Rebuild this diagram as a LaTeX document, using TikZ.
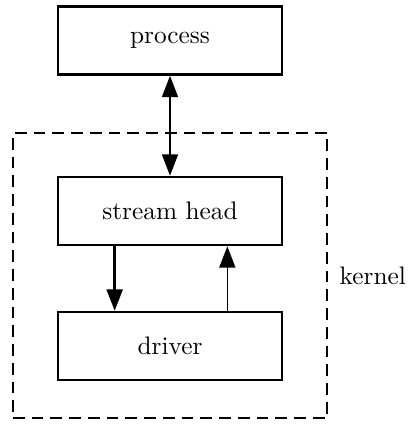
\documentclass[tikz,border=0pt]{standalone}
\usepackage{tikz}
\usetikzlibrary{arrows.meta, positioning}

\tikzset{
  unit/.style={draw, line width=1.1pt, minimum width=3.36cm, minimum height=1.02cm,
    font=\fontsize{10.8}{12}\selectfont},
  kernelbox/.style={draw, line width=0.9pt, dash pattern=on 5pt off 3pt,
    minimum width=4.71cm, minimum height=4.28cm},
  flow/.style={line width=0.7pt, -{Triangle[length=3.2mm, width=2.4mm]}},
  twoway/.style={line width=0.7pt, {Triangle[length=3.2mm, width=2.4mm]}-{Triangle[length=3.2mm, width=2.4mm]}},
}

\begin{document}
\begin{tikzpicture}[x=0.015cm, y=-0.015cm]
  \useasboundingbox (0, 0) rectangle (407, 425);

  % user side
  \node[unit] (proc) at (170, 40.5) {process};

  % kernel side
  \node[kernelbox] (kern) at (170, 275.5) {};
  \node[right=0.05cm of kern.east, font=\fontsize{10.8}{12}\selectfont] (klabel) {kernel};
  \node[unit] (head) at (170, 211) {stream head};
  \node[unit] (drv) at (170, 346) {driver};

  \draw[twoway] (proc) -- (head); % both ways
  \draw[flow, line width=1pt] ([xshift=-0.83cm]head.south) -- ([xshift=-0.83cm]drv.north); % downstream
  \draw[flow] ([xshift=0.86cm]drv.north) -- ([xshift=0.86cm]head.south); % upstream
\end{tikzpicture}
\end{document}
